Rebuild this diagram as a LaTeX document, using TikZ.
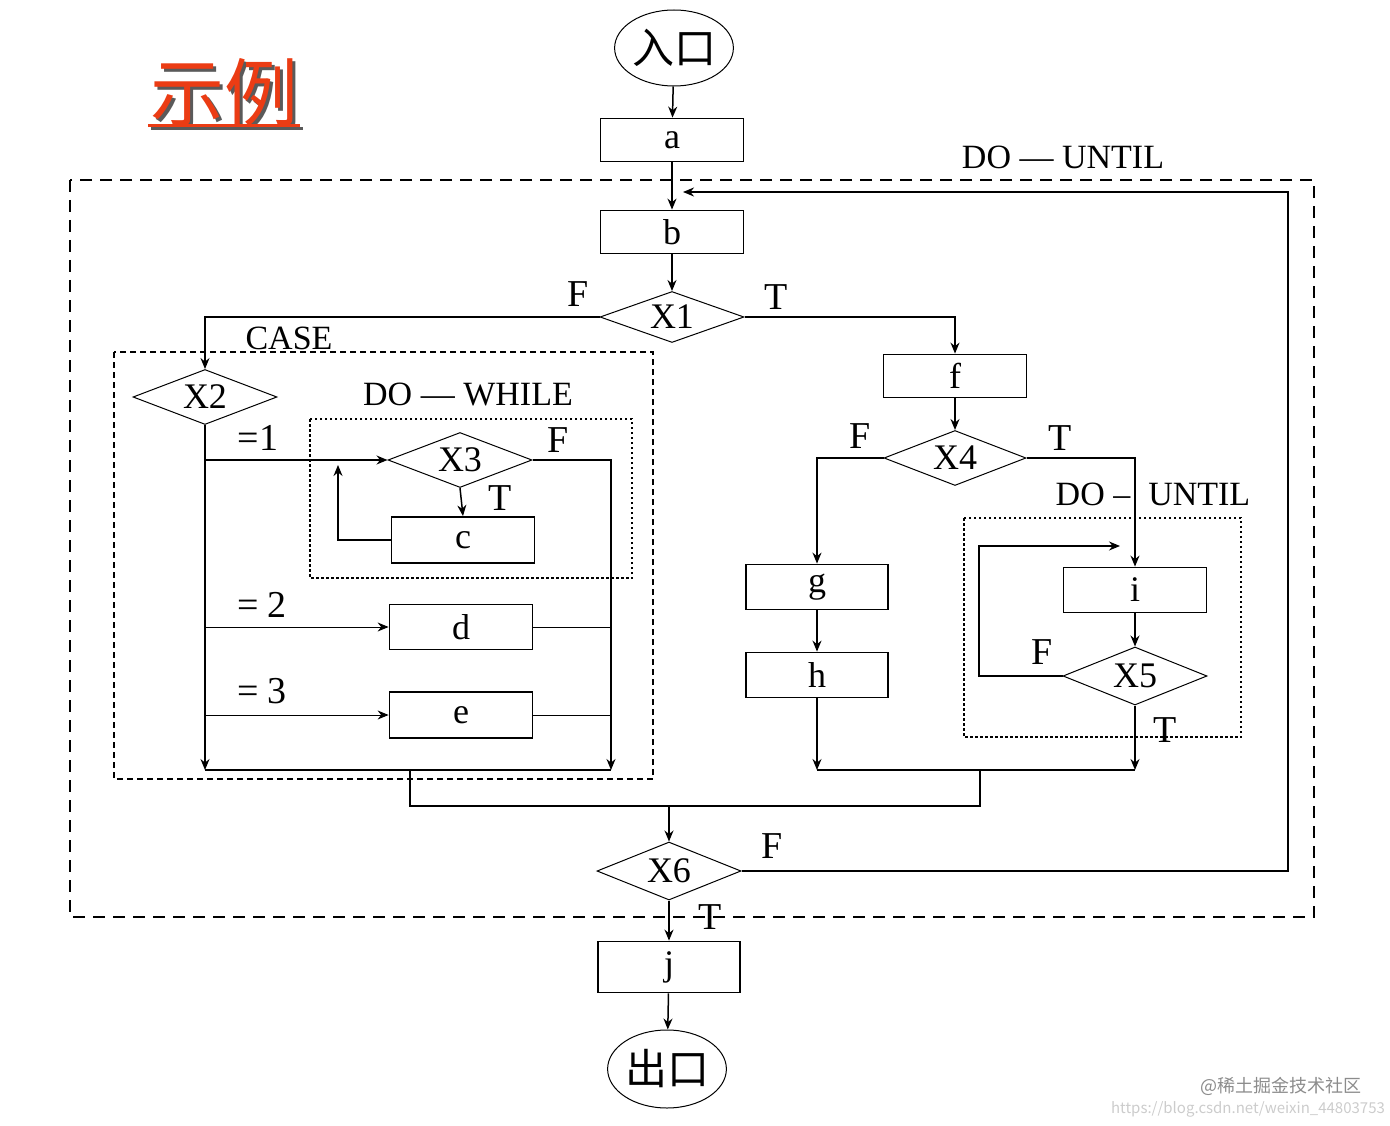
\documentclass[tikz,border=0pt]{standalone}
\usepackage{fontspec}
\setmainfont{Liberation Serif}
\newfontfamily\cjk{Noto Sans CJK SC}
\usetikzlibrary{shapes.geometric, arrows.meta, positioning, calc}
\definecolor{titlered}{RGB}{235,60,20}
\definecolor{titleshade}{RGB}{90,90,90}

\tikzset{
    arr/.style = {-{Stealth[length=11pt, width=9pt]}},
    proc/.style = {draw, line width=1.8pt, minimum width=143pt, minimum height=43pt, inner sep=0pt, font=\fontsize{36}{36}\selectfont},
    cond/.style = {draw, diamond, aspect=2.6, line width=1pt, minimum width=144pt, minimum height=55pt, inner sep=0pt, font=\fontsize{36}{36}\selectfont},
    term/.style = {draw, ellipse, line width=1pt, inner sep=0pt, font=\cjk\fontsize{42}{42}\selectfont},
    lab/.style = {inner sep=0pt, font=\fontsize{38}{38}\selectfont},
    blocklab/.style = {inner sep=0pt, font=\fontsize{34}{34}\selectfont},
    outerbox/.style = {line width=1.6pt, dash pattern=on 12pt off 8pt},
    casebox/.style = {line width=1.6pt, dash pattern=on 6pt off 4pt},
    loopbox/.style = {line width=1.1pt, dash pattern=on 2.5pt off 2.5pt}
}

\begin{document}
\begin{tikzpicture}[x=1pt, y=-1pt, line width=1.5pt]
    \useasboundingbox (0,0) rectangle (1390,1126);
    % Titolo
    \node[font=\cjk\fontsize{74}{74}\selectfont, text=titleshade] (titleshadow) at (227,95) {示例};
    \node[font=\cjk\fontsize{74}{74}\selectfont, text=titlered] (title) at (224,92) {示例};
    \draw[titleshade, line width=3pt] (151,129) -- (303,129);
    \draw[titlered, line width=3pt] (148,126) -- (300,126);

    % Blocchi tratteggiati
    \draw[outerbox] (70,180) rectangle (1314,917);
    \draw[casebox] (114,352) rectangle (653,779);
    \draw[loopbox] (310,419) rectangle (632,578);
    \draw[loopbox] (964,518) rectangle (1241,737);
    \node[blocklab] (untilouter) at (1063,157) {DO — UNTIL};
    \node[blocklab] (caselab) at (289,338) {CASE};
    \node[blocklab] (whilelab) at (468,395) {DO — WHILE};
    \node[blocklab] (untilinner) at (1153,494) {DO –\hspace{18pt}UNTIL};

    % Nodi
    \node[term, minimum width=112pt, minimum height=76pt] (entry) at (674,48) {入口};
    \node[proc] (a) at (672,140) {a};
    \node[proc] (b) at (672,232) {b};
    \node[cond, minimum height=51pt] (x1) at (672,317) {X1};
    \node[cond] (x2) at (205,397) {X2};
    \node[cond] (x3) at (460,460) {X3};
    \node[proc, minimum height=46pt] (c) at (463,540) {c};
    \node[proc, minimum height=45pt] (d) at (461,627) {d};
    \node[proc, minimum height=46pt] (e) at (461,715) {e};
    \node[proc] (f) at (955,376) {f};
    \node[cond, minimum width=142pt] (x4) at (955,458) {X4};
    \node[proc, minimum width=142pt, minimum height=45pt] (g) at (817,587) {g};
    \node[proc, minimum width=142pt, minimum height=45pt] (h) at (817,675) {h};
    \node[proc, minimum height=45pt] (i) at (1135,590) {i};
    \node[cond, minimum height=58pt] (x5) at (1135,676) {X5};
    \node[cond, minimum height=58pt] (x6) at (669,871) {X6};
    \node[proc, minimum width=142pt, minimum height=51pt] (j) at (669,967) {j};
    \node[term, minimum width=110pt, minimum height=78pt] (exit) at (667,1069) {出口};

    % Punti di raccordo
    \coordinate (fbr) at (1288,192);
    \coordinate (fbend) at (683,192);
    \coordinate (cl) at (205,770);
    \coordinate (cr) at (611,770);
    \coordinate (cup) at (338,465);
    \coordinate (rl) at (1135,770);
    \coordinate (lm) at (410,770);
    \coordinate (rm) at (980,770);
    \coordinate (jn) at (669,806);
    \coordinate (lp) at (979,546);
    \coordinate (lpend) at (1120,546);

    % Collegamenti
    \draw[arr] (entry) -- (a);
    \draw[arr] (a) -- (b);
    \draw[arr] (b) -- (x1);
    \draw[arr] (x1.west) -| (x2.north);
    \draw[arr] (x1.east) -| (f.north);
    \draw[arr] (x2.south) -- (cl);
    \draw[arr] (x2.south |- x3.west) -- (x3.west);
    \draw[arr] (x3.east) -| (cr);
    \draw[arr] (x3.south) -- (c.north);
    \draw[arr] (c.west) -| (cup);
    \draw[arr, line width=1pt] (x2.south |- d.west) -- (d.west);
    \draw[line width=1pt] (d.east) -- (d.east -| cr);
    \draw[arr, line width=1pt] (x2.south |- e.west) -- (e.west);
    \draw[line width=1pt] (e.east) -- (e.east -| cr);
    \draw (cl) -- (cr);
    \draw[arr] (f) -- (x4);
    \draw[arr] (x4.west) -| (g.north);
    \draw[arr] (x4.east) -| (i.north);
    \draw[arr] (g) -- (h);
    \draw[arr] (h.south) -- (h.south |- rl);
    \draw[arr] (i) -- (x5);
    \draw[arr] (x5.south) -- (rl);
    \draw[arr] (x5.west) -| (lp) -- (lpend);
    \draw (h.south |- rl) -- (rl);
    \draw (lm) |- (rm |- jn) -- (rm);
    \draw[arr] (jn) -- (x6.north);
    \draw[arr, line width=2.2pt] (x6.east) -| (fbr) -- (fbend);
    \draw[arr] (x6.south) -- (j.north);
    \draw[arr] (j) -- (exit);

    % Etichette
    \node[lab] (x1f) at (578,294) {F};
    \node[lab] (x1t) at (776,297) {T};
    \node[lab] (x2one) at (258,438) {=1};
    \node[lab] (x2two) at (262,605) {= 2};
    \node[lab] (x2three) at (262,691) {= 3};
    \node[lab] (x3f) at (558,440) {F};
    \node[lab] (x3t) at (500,498) {T};
    \node[lab] (x4f) at (860,436) {F};
    \node[lab] (x4t) at (1060,438) {T};
    \node[lab] (x5f) at (1042,652) {F};
    \node[lab] (x5t) at (1165,730) {T};
    \node[lab] (x6f) at (772,846) {F};
    \node[lab] (x6t) at (710,917) {T};

    % Filigrana
    \node[font=\cjk\fontsize{18}{18}\selectfont, text=black!45] (wmark) at (1281,1086) {@稀土掘金技术社区};
    \node[font=\cjk\fontsize{15}{15}\selectfont, text=black!20] (wurl) at (1248,1109) {https://blog.csdn.net/weixin\_44803753};
\end{tikzpicture}
\end{document}
